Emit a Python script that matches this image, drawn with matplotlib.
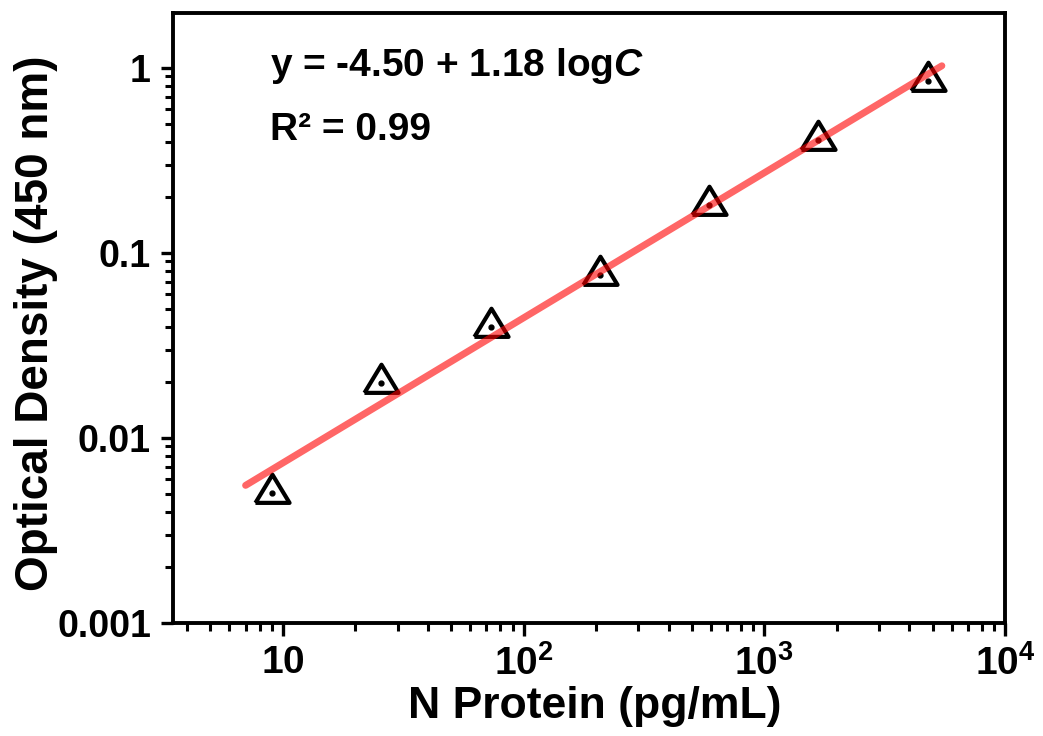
import numpy as np
import matplotlib
matplotlib.use('Agg')
import matplotlib.pyplot as plt
from matplotlib.ticker import FixedLocator, FixedFormatter, LogLocator, NullFormatter

plt.rcParams['font.family'] = ['Liberation Sans', 'DejaVu Sans']
plt.rcParams['font.weight'] = 'bold'
plt.rcParams['mathtext.fontset'] = 'custom'
plt.rcParams['mathtext.rm'] = 'Liberation Sans:bold'
plt.rcParams['mathtext.bf'] = 'Liberation Sans:bold'
plt.rcParams['mathtext.it'] = 'Liberation Sans:bold:italic'

# N protein calibration data
conc = [9.0, 25.6, 72.9, 207, 591, 1675, 4775]
od = [0.00502, 0.0199, 0.040, 0.076, 0.182, 0.408, 0.85]
fit_range = [7.0, 5465]

x_ticks = [10, 100, 1000, 10000]
x_ticklabels = [r'$10$', r'$10^{2}$', r'$10^{3}$', r'$10^{4}$']
y_ticks = [0.001, 0.01, 0.1, 1]
y_ticklabels = ['0.001', '0.01', '0.1', '1']

# linear fit in log-log space
slope, intercept = np.polyfit(np.log10(conc), np.log10(od), 1)
xf = np.logspace(np.log10(fit_range[0]), np.log10(fit_range[1]), 50)
yf = 10 ** (intercept + slope * np.log10(xf))

fig = plt.figure(figsize=(10.43, 7.36), dpi=100)
ax = fig.add_axes([0.166, 0.1535, 0.7976, 0.8288])

tri = [(-1, -0.55), (1, -0.55), (0, 1.1), (-1, -0.55)]
ax.plot(conc, od, linestyle='none', marker=tri, ms=27, mfc='none',
        mec='black', mew=3.0, zorder=3)
ax.plot(conc, od, linestyle='none', marker='o', ms=3.5, color='black', zorder=3)
ax.plot(xf, yf, color='red', alpha=0.6, lw=5, solid_capstyle='round', zorder=4)

ax.set_xscale('log')
ax.set_yscale('log')
ax.set_xlim(3.5, 10000)
ax.set_ylim(0.001, 1.98)

ax.xaxis.set_major_locator(FixedLocator(x_ticks))
ax.xaxis.set_major_formatter(FixedFormatter(x_ticklabels))
ax.xaxis.set_minor_locator(LogLocator(base=10, subs=np.arange(2, 10)))
ax.xaxis.set_minor_formatter(NullFormatter())
ax.yaxis.set_major_locator(FixedLocator(y_ticks))
ax.yaxis.set_major_formatter(FixedFormatter(y_ticklabels))
ax.yaxis.set_minor_locator(LogLocator(base=10, subs=np.arange(2, 10)))
ax.yaxis.set_minor_formatter(NullFormatter())

for s in ax.spines.values():
    s.set_linewidth(2.8)
ax.tick_params(axis='both', which='major', direction='out', length=9, width=2.4)
ax.tick_params(axis='both', which='minor', direction='out', length=5.5, width=2.2)
ax.tick_params(axis='x', labelsize=28, pad=7)
ax.tick_params(axis='y', labelsize=27, pad=7)
ax.tick_params(top=False, right=False, which='both')

ax.set_xlabel('N Protein (pg/mL)', fontsize=32, fontweight='bold')
ax.set_ylabel('Optical Density (450 nm)', fontsize=33, fontweight='bold')
ax.xaxis.set_label_coords(0.507, -0.103)
ax.yaxis.set_label_coords(-0.138, 0.492)

ax.text(0.117, 0.913, r'y = -4.50 + 1.18 log$C$', transform=ax.transAxes,
        fontsize=28, fontweight='bold', va='center', ha='left')
ax.text(0.117, 0.808, 'R² = 0.99', transform=ax.transAxes,
        fontsize=28, fontweight='bold', va='center', ha='left')

fig.savefig('out.png', dpi=100)
